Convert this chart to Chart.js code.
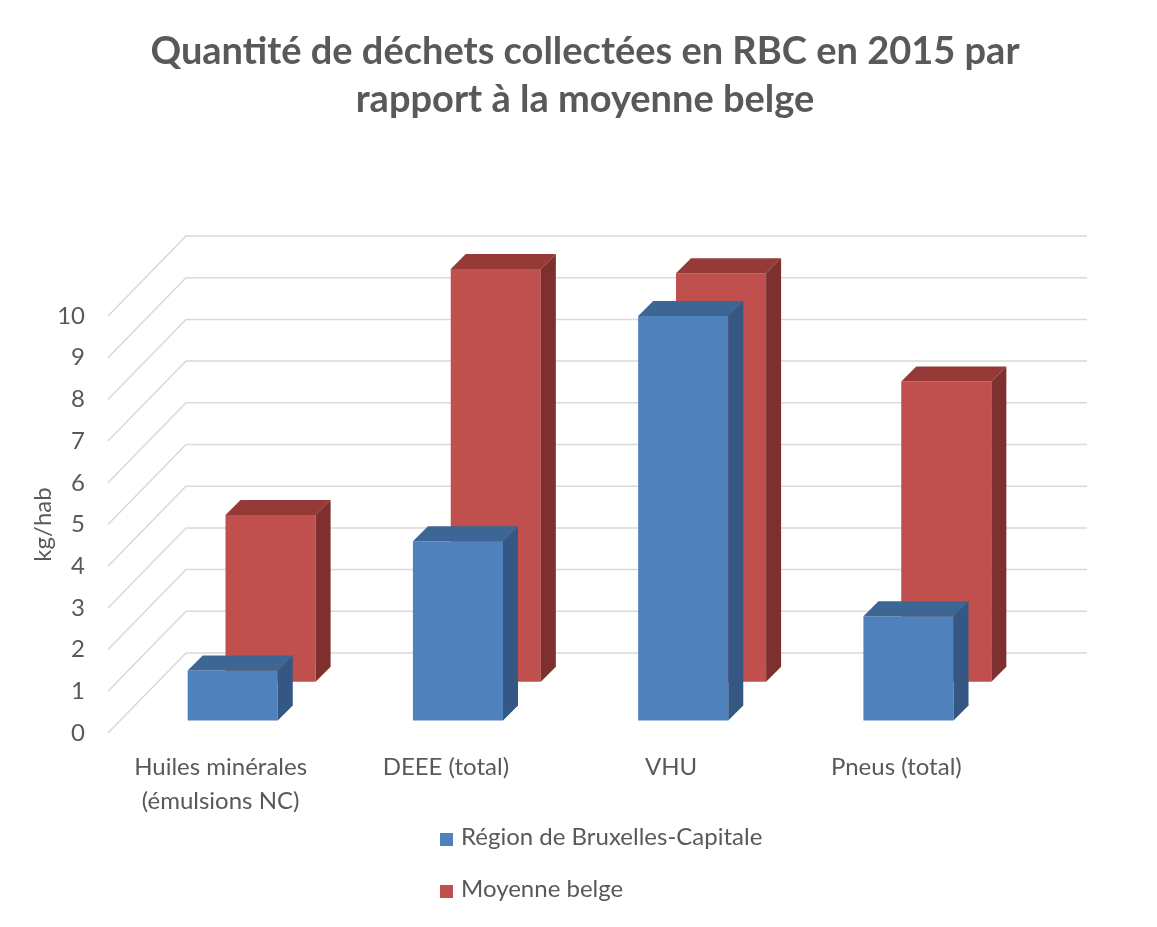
<!DOCTYPE html>
<html lang="fr">
<head>
<meta charset="utf-8">
<title>Quantité de déchets collectées en RBC en 2015</title>
<script src="https://cdn.jsdelivr.net/npm/chart.js@4/dist/chart.umd.min.js"></script>
<style>
  html, body { margin: 0; padding: 0; background: #ffffff; }
  #wrap { position: relative; width: 1157px; height: 927px; }
</style>
</head>
<body>
<div id="wrap"><canvas id="waste-chart"></canvas></div>
<script>
// data (kg/hab)
const CATEGORIES = [['Huiles minérales', '(émulsions NC)'], 'DEEE (total)', 'VHU', 'Pneus (total)'];
const SERIES_LABELS = ['Région de Bruxelles-Capitale', 'Moyenne belge'];
const RBC_VALUES = [1.2, 4.3, 9.7, 2.5];
const BELGIUM_VALUES = [4.0, 9.9, 9.8, 7.2];
const Y_TICKS = [0, 1, 2, 3, 4, 5, 6, 7, 8, 9, 10];

const TEXT_COLOR = '#595959';
const FONT = 'Lato';
const TEXT_SIZE = 24;

// fake 3D: back wall offset, box depth, series position between front and wall
const WALL = { dx: 78, dy: -80 };
const BOX_DEPTH = 15;
const SERIES_DEPTH = [0.155, 0.64];
const FACES = [
  { front: '#4F81BD', top: '#3D6695', side: '#345784' },
  { front: '#C0504D', top: '#953A37', side: '#7D302E' },
];

const threeD = {
  id: 'threeD',
  beforeDatasetsDraw(chart) {
    const { ctx, chartArea, scales } = chart;
    ctx.save();
    ctx.strokeStyle = '#D9D9D9';
    ctx.lineWidth = 1.5;
    scales.y.ticks.forEach((t) => {
      const y = scales.y.getPixelForValue(t.value);
      ctx.beginPath();
      ctx.moveTo(chartArea.left, y);
      ctx.lineTo(chartArea.left + WALL.dx, y + WALL.dy);
      ctx.lineTo(chartArea.right + WALL.dx, y + WALL.dy);
      ctx.stroke();
    });
    ctx.restore();
  },
  beforeDatasetDraw(chart, args) {
    const d = SERIES_DEPTH[args.index];
    chart.ctx.save();
    chart.ctx.translate(WALL.dx * d, WALL.dy * d);
  },
  afterDatasetDraw(chart, args) {
    const ctx = chart.ctx;
    const face = FACES[args.index];
    args.meta.data.forEach((bar) => {
      const { x, y, base, width } = bar.getProps(['x', 'y', 'base', 'width'], true);
      const l = x - width / 2;
      const r = x + width / 2;
      ctx.fillStyle = face.top;
      ctx.beginPath();
      ctx.moveTo(l, y);
      ctx.lineTo(l + BOX_DEPTH, y - BOX_DEPTH);
      ctx.lineTo(r + BOX_DEPTH, y - BOX_DEPTH);
      ctx.lineTo(r, y);
      ctx.closePath();
      ctx.fill();
      ctx.fillStyle = face.side;
      ctx.beginPath();
      ctx.moveTo(r, y);
      ctx.lineTo(r + BOX_DEPTH, y - BOX_DEPTH);
      ctx.lineTo(r + BOX_DEPTH, base - BOX_DEPTH);
      ctx.lineTo(r, base);
      ctx.closePath();
      ctx.fill();
    });
    ctx.restore();
  },
  afterDraw(chart) {
    // legend stacked under the axis, like the original
    const ctx = chart.ctx;
    const left = 440;
    const rows = [837, 889];
    ctx.save();
    ctx.font = `${TEXT_SIZE}px ${FONT}`;
    ctx.textBaseline = 'middle';
    chart.data.datasets.forEach((ds, i) => {
      ctx.fillStyle = ds.backgroundColor;
      ctx.fillRect(left, rows[i] - 4, 13, 13);
      ctx.fillStyle = TEXT_COLOR;
      ctx.fillText(ds.label, left + 21, rows[i]);
    });
    ctx.restore();
  },
};

const ctx = document.getElementById('waste-chart');
new Chart(ctx, {
  type: 'bar',
  data: {
    labels: CATEGORIES,
    datasets: [
      {
        label: SERIES_LABELS[0],
        data: RBC_VALUES,
        backgroundColor: FACES[0].front,
        order: 0,
      },
      {
        label: SERIES_LABELS[1],
        data: BELGIUM_VALUES,
        backgroundColor: FACES[1].front,
        order: 1,
      },
    ],
  },
  options: {
    responsive: true,
    maintainAspectRatio: false,
    animation: false,
    layout: { padding: { left: 13, right: 0, top: 0, bottom: 0 } },
    datasets: {
      bar: { grouped: false, categoryPercentage: 1, barPercentage: 0.4, clip: false },
    },
    plugins: {
      legend: { display: false },
      tooltip: { enabled: false },
      title: {
        display: true,
        text: ['Quantité de déchets collectées en RBC en 2015 par', 'rapport à la moyenne belge'],
        color: TEXT_COLOR,
        font: { family: FONT, size: 38, weight: 'bold', lineHeight: 48 / 38 },
        padding: { top: 28, bottom: 192 },
      },
    },
    scales: {
      x: {
        grid: { display: false, drawTicks: false },
        border: { display: false },
        ticks: {
          color: TEXT_COLOR,
          font: { family: FONT, size: TEXT_SIZE, lineHeight: 34 / TEXT_SIZE },
          padding: 17,
          maxRotation: 0,
          autoSkip: false,
        },
        afterFit: (s) => { s.height = 194; },
      },
      y: {
        min: Y_TICKS[0],
        max: Y_TICKS[Y_TICKS.length - 1],
        grid: { display: false, drawTicks: false },
        border: { display: false },
        ticks: {
          stepSize: Y_TICKS[1] - Y_TICKS[0],
          color: TEXT_COLOR,
          font: { family: FONT, size: TEXT_SIZE },
          padding: 23,
        },
        title: {
          display: true,
          text: 'kg/hab',
          color: TEXT_COLOR,
          font: { family: FONT, size: TEXT_SIZE, lineHeight: 1.2 },
          padding: { top: 16, bottom: 0 },
        },
        afterFit: (s) => { s.width = 95; },
      },
      // empty right-hand box: keeps the plot narrow while the title stays centred on the page
      yRight: {
        position: 'right',
        grid: { display: false, drawTicks: false },
        border: { display: false },
        ticks: { display: false },
        afterFit: (s) => { s.width = 148; },
      },
    },
  },
  plugins: [threeD],
});
</script>
</body>
</html>
